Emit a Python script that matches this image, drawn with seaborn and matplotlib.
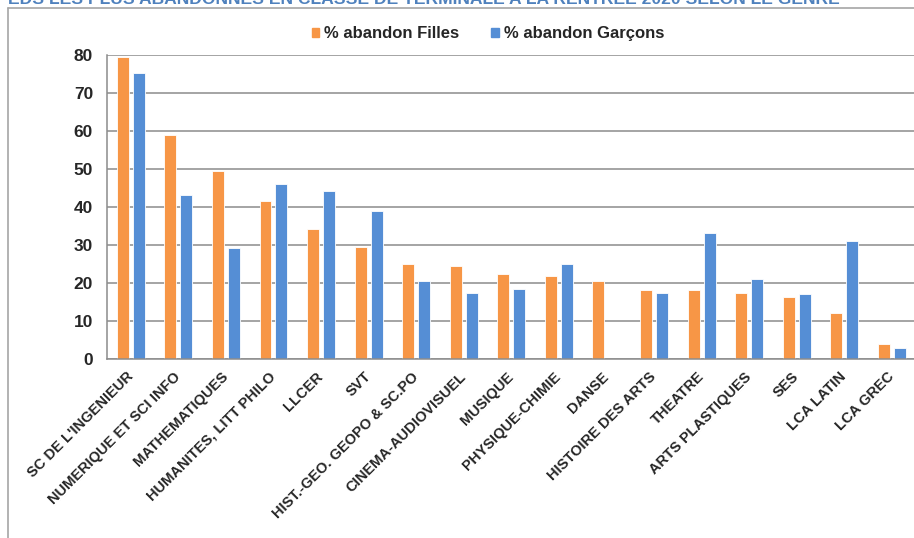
import numpy as np
import pandas as pd
import matplotlib
matplotlib.use("Agg")
import matplotlib.pyplot as plt
from matplotlib.lines import Line2D
import seaborn as sns

# Data
subjects = [
    "SC DE L'INGENIEUR", "NUMERIQUE ET SCI INFO", "MATHEMATIQUES",
    "HUMANITES, LITT PHILO", "LLCER", "SVT", "HIST.-GEO. GEOPO & SC.PO",
    "CINEMA-AUDIOVISUEL", "MUSIQUE", "PHYSIQUE-CHIMIE", "DANSE",
    "HISTOIRE DES ARTS", "THEATRE", "ARTS PLASTIQUES", "SES",
    "LCA LATIN", "LCA GREC",
]
filles = [79.6, 59.1, 49.6, 41.6, 34.2, 29.6, 25.0, 24.5, 22.5, 21.8,
          20.5, 18.2, 18.2, 17.4, 16.3, 12.3, 3.9]
garcons = [75.3, 43.2, 29.4, 46.2, 44.3, 38.9, 20.5, 17.4, 18.5, 25.0,
           np.nan, 17.4, 33.2, 21.1, 17.2, 31.2, 3.0]
series = ["% abandon Filles", "% abandon Garçons"]
colors = ["#F79646", "#558ED5"]
title = "EDS LES PLUS ABANDONNES EN CLASSE DE TERMINALE A LA RENTREE 2020 SELON LE GENRE"

df = pd.DataFrame({
    "Matiere": subjects * 2,
    "Serie": [series[0]] * len(subjects) + [series[1]] * len(subjects),
    "Valeur": filles + garcons,
})

sns.set_style("white")
plt.rcParams["font.family"] = ["Liberation Sans", "DejaVu Sans"]

W, H = 914, 538
fig = plt.figure(figsize=(W / 100, H / 100), dpi=100)
ax = fig.add_axes([107 / W, (H - 359.3) / H, (915.6 - 107) / W, 304 / H])

sns.barplot(
    data=df, x="Matiere", y="Valeur", hue="Serie", order=subjects,
    hue_order=series, palette=colors, saturation=1, width=0.67, gap=0.25,
    edgecolor="#FFFFFF", linewidth=0.6, ax=ax,
)

ax.set_ylim(0, 80)
ax.set_yticks(range(0, 81, 10))
ax.set_xlim(-0.5, len(subjects) - 0.5)
ax.yaxis.grid(True, color="#8C8C8C", linewidth=1.1)
ax.set_axisbelow(True)
for side in ["top", "right"]:
    ax.spines[side].set_visible(False)
for side in ["left", "bottom"]:
    ax.spines[side].set_color("#8C8C8C")
    ax.spines[side].set_linewidth(1.1)
ax.tick_params(axis="both", length=0)
ax.tick_params(axis="y", pad=10)
ax.set_xlabel("")
ax.set_ylabel("")

for lbl in ax.get_yticklabels():
    lbl.set_fontsize(12.5)
    lbl.set_fontweight("bold")
ax.set_xticks(range(len(subjects)))
ax.set_xticklabels(subjects, rotation=45, ha="right", va="center",
                   rotation_mode="anchor", fontsize=10.5, fontweight="bold")
ax.tick_params(axis="x", pad=11)

ax.legend_.remove()
handles = [plt.Rectangle((0, 0), 1, 1, color=c) for c in colors]
fig.legend(handles, series, loc="center", bbox_to_anchor=(488 / W, 1 - 34 / H),
           ncol=2, frameon=False, handlelength=0.45, handleheight=0.45,
           handletextpad=0.3, columnspacing=1.9,
           prop={"weight": "bold", "size": 12})

# outer frame and cropped heading
fig.add_artist(Line2D([8.3 / W, 8.3 / W], [0, 1 - 8 / H], transform=fig.transFigure,
                      color="#A6A6A6", linewidth=1.2))
fig.add_artist(Line2D([8.3 / W, 1], [1 - 8 / H, 1 - 8 / H], transform=fig.transFigure,
                      color="#A6A6A6", linewidth=1.2))
fig.text(8 / W, 1 - 4.5 / H, title, color="#4F81BD", fontsize=12.6,
         fontweight="bold", ha="left", va="baseline")

fig.savefig("out.png", dpi=100)
